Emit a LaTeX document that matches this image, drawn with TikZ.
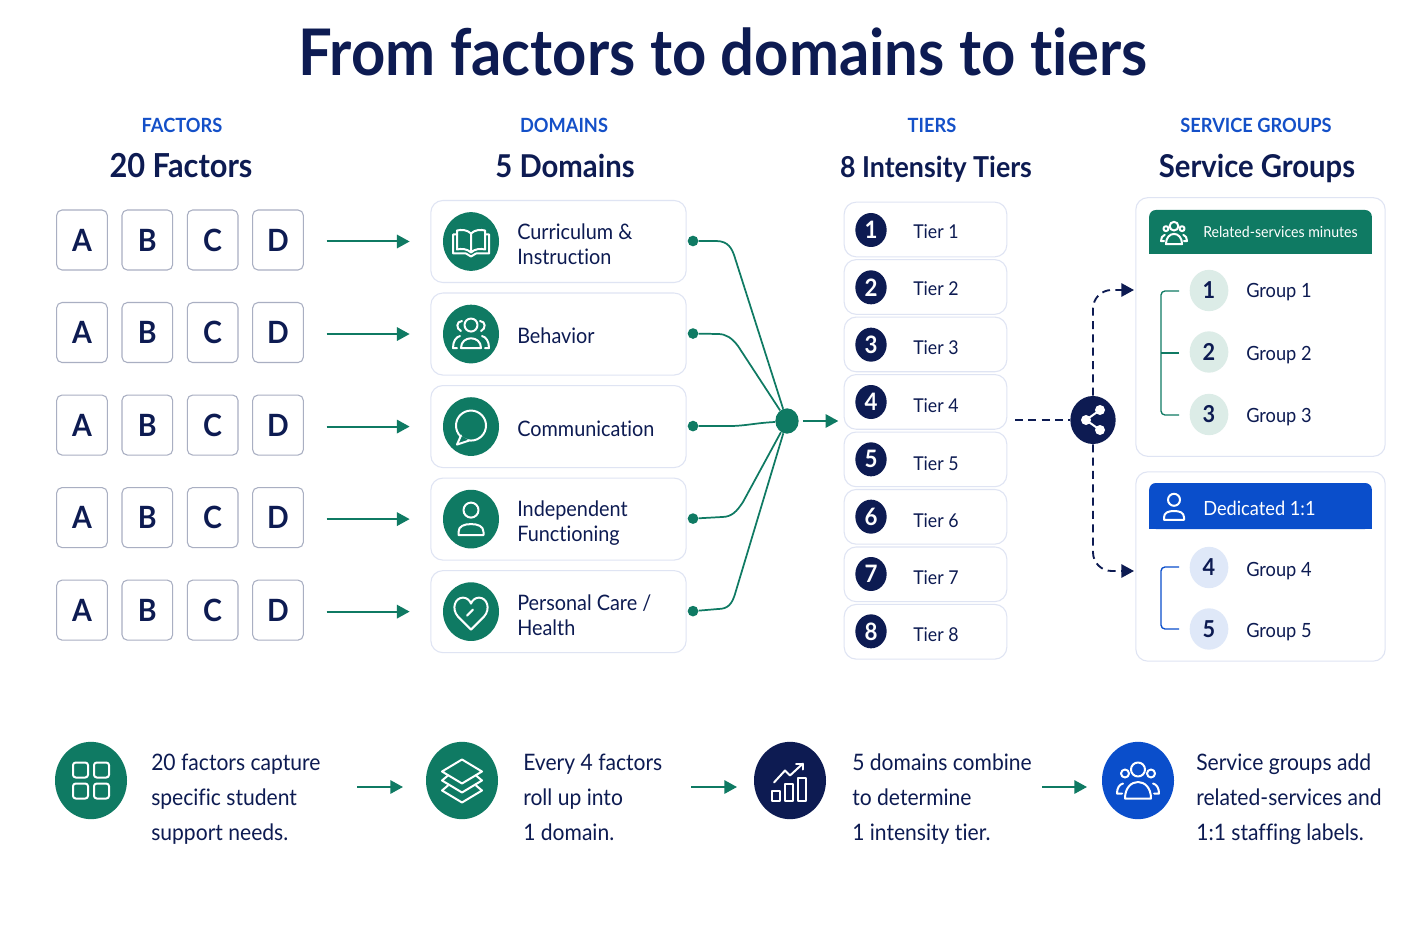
\documentclass[tikz,border=0pt]{standalone}
\usepackage{fontspec}
\setmainfont[Ligatures=NoCommon, FakeStretch=0.93]{Lato}
\usetikzlibrary{positioning}
\usetikzlibrary{shapes.geometric}
\usetikzlibrary{arrows.meta}
\definecolor{navyc}{HTML}{0D1B52}
\definecolor{greenc}{HTML}{0F7A63}
\definecolor{bluec}{HTML}{0A4ECB}
\definecolor{labelc}{HTML}{1450C8}
\definecolor{edgec}{HTML}{DFE4F3}
\definecolor{factorc}{HTML}{A9AFC2}
\definecolor{palegreen}{HTML}{DCECE7}
\definecolor{paleblue}{HTML}{DFE8F8}
\tikzset{
    iconline/.style = {draw=white, line width=1.5pt, line join=round, line cap=round},
    pics/bookicon/.style = {code={
        \draw[iconline] (0,-8) .. controls (-4,-12) and (-10,-12) .. (-14,-11) -- (-14,8) .. controls (-10,7) and (-4,7) .. (0,11) .. controls (4,7) and (10,7) .. (14,8) -- (14,-11) .. controls (10,-12) and (4,-12) .. (0,-8) -- (0,11);
        \draw[iconline] (-14,-7) -- (-18,-7) -- (-18,12) -- (-5,12) -- (0,15) -- (5,12) -- (18,12) -- (18,-7) -- (14,-7);
    }},
    pics/behavioricon/.style = {code={
        \draw[iconline] (0,-9) circle (6.5);
        \draw[iconline] (-10,14) .. controls (-10,1) and (10,1) .. (10,14) -- cycle;
        \draw[iconline] (-9,-13) .. controls (-15,-13) and (-15,-5) .. (-10,-3);
        \draw[iconline] (9,-13) .. controls (15,-13) and (15,-5) .. (10,-3);
        \draw[iconline] (-14,14) -- (-18,14) .. controls (-18,7) and (-15,3) .. (-11,2);
        \draw[iconline] (14,14) -- (18,14) .. controls (18,7) and (15,3) .. (11,2);
    }},
    pics/bubbleicon/.style = {code={
        \draw[iconline] (0,-1) circle (15);
        \draw[iconline, fill=greenc] (-10,9) -- (-14,18) -- (-2,14);
    }},
    pics/personicon/.style = {code={
        \draw[iconline] (0,-9) circle (7.5);
        \draw[iconline] (-12.5,16) -- (12.5,16) -- (12.5,13) .. controls (12.5,7) and (7,5) .. (0,5) .. controls (-7,5) and (-12.5,7) .. (-12.5,13) -- cycle;
    }},
    pics/hearticon/.style = {code={
        \draw[iconline] (0,18) -- (-13,5) .. controls (-20,-3) and (-16,-14) .. (-8,-14) .. controls (-4,-14) and (-1,-11) .. (0,-8) .. controls (1,-11) and (4,-14) .. (8,-14) .. controls (16,-14) and (20,-3) .. (13,5) -- cycle;
        \draw[iconline] (-4,4) -- (2,-2);
    }},
    pics/gridicon/.style = {code={
        \draw[iconline, rounded corners=2pt] (-18,-18) rectangle (-3,-3);
        \draw[iconline, rounded corners=2pt] (3,-18) rectangle (18,-3);
        \draw[iconline, rounded corners=2pt] (-18,3) rectangle (-3,18);
        \draw[iconline, rounded corners=2pt] (3,3) rectangle (18,18);
    }},
    pics/layersicon/.style = {code={
        \draw[iconline] (0,-21) -- (20,-9) -- (0,3) -- (-20,-9) -- cycle;
        \draw[iconline] (-14,-5) -- (-20,0) -- (0,12) -- (20,0) -- (14,-5);
        \draw[iconline] (-14,5) -- (-20,10) -- (0,22) -- (20,10) -- (14,5);
    }},
    pics/charticon/.style = {code={
        \draw[iconline] (-18,10) rectangle (-10,20);
        \draw[iconline] (-5,3) rectangle (3,20);
        \draw[iconline] (8,-3) rectangle (16,20);
        \draw[iconline] (-16,2) -- (-5,-10) -- (0,-5) -- (13,-17);
        \draw[iconline] (6,-17) -- (13,-17) -- (13,-11);
    }},
    pics/crewicon/.style = {code={
        \draw[iconline] (0,-11) circle (7);
        \draw[iconline] (-13,-7) circle (4);
        \draw[iconline] (13,-7) circle (4);
        \draw[iconline] (-13,18) .. controls (-13,-4) and (13,-4) .. (13,18) -- cycle;
        \draw[iconline] (-16,13) -- (-21,13) .. controls (-21,8) and (-19,4) .. (-15,3);
        \draw[iconline] (16,13) -- (21,13) .. controls (21,8) and (19,4) .. (15,3);
    }},
    pics/shareicon/.style = {code={
        \draw[iconline] (7,-10) -- (-7,0) -- (7,10);
        \fill[white] (7,-10) circle (5) (-7,0) circle (5) (7,10) circle (5);
    }}
}
\begin{document}
\begin{tikzpicture}[x=0.75pt, y=-0.75pt, >={Triangle[length=9.5pt,width=10pt]},
                        node distance = 69.4pt and 49pt, on grid,                % Node placement settings
                        facbox/.style = {draw=factorc, line width=0.8pt, rounded corners=4pt, fill=white, minimum width=38pt, minimum height=45pt, text=navyc, font=\fontsize{23}{24}\selectfont\bfseries},
                        dombox/.style = {draw=edgec, line width=0.8pt, rounded corners=9pt, fill=white, minimum width=191.5pt, minimum height=61.5pt},
                        tierbox/.style = {draw=edgec, line width=0.8pt, rounded corners=9pt, fill=white, minimum width=122pt, minimum height=41pt},
                        svcbox/.style = {draw=edgec, line width=0.8pt, rounded corners=9pt, fill=white, minimum width=187pt},
                        iconc/.style = {ellipse, fill=greenc, minimum width=42pt, minimum height=44pt, inner sep=0pt},
                        bigc/.style = {ellipse, minimum width=54pt, minimum height=58pt, inner sep=0pt},
                        numc/.style = {ellipse, fill=navyc, text=white, minimum width=23.5pt, minimum height=25.5pt, inner sep=0pt, font=\fontsize{18}{18}\selectfont\bfseries},
                        groupc/.style = {ellipse, text=navyc, minimum width=29pt, minimum height=31pt, inner sep=0pt, font=\fontsize{17.5}{18}\selectfont\bfseries},
                        dotn/.style = {circle, fill=greenc, minimum size=8pt, inner sep=0pt},
                        headlabel/.style = {anchor=base, text=labelc, font=\fontsize{14.7}{16}\selectfont\bfseries},
                        columnhead/.style = {anchor=base, text=navyc, font=\fontsize{23.6}{26}\selectfont\bfseries},
                        domtext/.style = {anchor=base west, inner sep=0pt, align=left, text=navyc, font=\fontsize{16}{18.75}\selectfont},
                        tiertext/.style = {anchor=base west, inner sep=0pt, text=navyc, font=\fontsize{14.3}{18}\selectfont},
                        grouptext/.style = {anchor=base west, inner sep=0pt, text=navyc, font=\fontsize{14.7}{18}\selectfont},
                        noteline/.style = {anchor=base west, inner sep=0pt, align=left, text=navyc, font=\fontsize{17}{26.25}\selectfont},
                        flow/.style = {draw=greenc, line width=1.5pt, ->},
                        hubline/.style = {draw=greenc, line width=1.3pt},
                        dashlink/.style = {draw=navyc, line width=1.4pt, dash pattern=on 6pt off 4pt}]
    \useasboundingbox (0,0) rectangle (1414,934);
    \fill[white] (0,0) rectangle (1414,934);
    % Title and column heads
    \node[anchor=base, inner sep=0pt, text=navyc, font=\fontsize{48.2}{52}\selectfont\bfseries] (title) at (723,76) {From factors to domains to tiers};
    \node[headlabel] (lab1) at (182,133) {FACTORS};
    \node[headlabel] (lab2) at (564,133) {DOMAINS};
    \node[headlabel] (lab3) at (932,133) {TIERS};
    \node[headlabel] (lab4) at (1256,133) {SERVICE GROUPS};
    \node[columnhead, font=\fontsize{24.8}{26}\selectfont\bfseries] (col1) at (181,178) {20 Factors};
    \node[columnhead] (col2) at (565,178) {5 Domains};
    \node[columnhead, font=\fontsize{21.6}{26}\selectfont\bfseries] (col3) at (936,178) {8 Intensity Tiers};
    \node[columnhead] (col4) at (1257,178) {Service Groups};
    % Factors
    \node[facbox] (a1) at (82,240) {A};
    \node[facbox] (b1) [right =of a1] {B};
    \node[facbox] (c1) [right =of b1] {C};
    \node[facbox] (d1) [right =of c1] {D};
    \node[facbox] (a2) [below =of a1] {A};
    \node[facbox] (b2) [right =of a2] {B};
    \node[facbox] (c2) [right =of b2] {C};
    \node[facbox] (d2) [right =of c2] {D};
    \node[facbox] (a3) [below =of a2] {A};
    \node[facbox] (b3) [right =of a3] {B};
    \node[facbox] (c3) [right =of b3] {C};
    \node[facbox] (d3) [right =of c3] {D};
    \node[facbox] (a4) [below =of a3] {A};
    \node[facbox] (b4) [right =of a4] {B};
    \node[facbox] (c4) [right =of b4] {C};
    \node[facbox] (d4) [right =of c4] {D};
    \node[facbox] (a5) [below =of a4] {A};
    \node[facbox] (b5) [right =of a5] {B};
    \node[facbox] (c5) [right =of b5] {C};
    \node[facbox] (d5) [right =of c5] {D};
    % Domains
    \node[dombox] (dom1) at (558.5,241.5) {};
    \node[dombox] (dom2) [below =of dom1] {};
    \node[dombox] (dom3) [below =of dom2] {};
    \node[dombox] (dom4) [below =of dom3] {};
    \node[dombox] (dom5) [below =of dom4] {};
    \node[iconc] (ic1) at (471,241.5) {};
    \node[iconc] (ic2) [below =of ic1] {};
    \node[iconc] (ic3) [below =of ic2] {};
    \node[iconc] (ic4) [below =of ic3] {};
    \node[iconc] (ic5) [below =of ic4] {};
    \pic at (ic1) {bookicon};
    \pic at (ic2) {behavioricon};
    \pic at (ic3) {bubbleicon};
    \pic at (ic4) {personicon};
    \pic at (ic5) {hearticon};
    \node[domtext] (dt1) at (517,265) {Curriculum \&\\Instruction};
    \node[domtext] (dt2) at (517,344) {Behavior};
    \node[domtext] (dt3) at (517,436) {Communication};
    \node[domtext] (dt4) at (517,541) {Independent\\Functioning};
    \node[domtext] (dt5) at (517,635) {Personal Care /\\Health};
    \node[dotn] (dot1) at (693,241) {};
    \node[dotn] (dot2) [below =of dot1] {};
    \node[dotn] (dot3) [below =of dot2] {};
    \node[dotn] (dot4) [below =of dot3] {};
    \node[dotn] (dot5) [below =of dot4] {};
    \node[ellipse, fill=greenc, minimum width=17.5pt, minimum height=19pt, inner sep=0pt] (hub) at (787,421) {};
    % Tiers
    \node[tierbox] (tier1) at (925.5,229.5) {};
    \node[tierbox] (tier2) [below =43.1pt of tier1] {};
    \node[tierbox] (tier3) [below =43.1pt of tier2] {};
    \node[tierbox] (tier4) [below =43.1pt of tier3] {};
    \node[tierbox] (tier5) [below =43.1pt of tier4] {};
    \node[tierbox] (tier6) [below =43.1pt of tier5] {};
    \node[tierbox] (tier7) [below =43.1pt of tier6] {};
    \node[tierbox] (tier8) [below =43.1pt of tier7] {};
    \node[numc] (num1) at (871,230) {1};
    \node[numc] (num2) [below =43pt of num1] {2};
    \node[numc] (num3) [below =43pt of num2] {3};
    \node[numc] (num4) [below =43pt of num3] {4};
    \node[numc] (num5) [below =43pt of num4] {5};
    \node[numc] (num6) [below =43pt of num5] {6};
    \node[numc] (num7) [below =43pt of num6] {7};
    \node[numc] (num8) [below =43pt of num7] {8};
    \node[tiertext] (tt1) at (913,239) {Tier 1};
    \node[tiertext] (tt2) at (913,296) {Tier 2};
    \node[tiertext] (tt3) at (913,354) {Tier 3};
    \node[tiertext] (tt4) at (913,412) {Tier 4};
    \node[tiertext] (tt5) at (913,470) {Tier 5};
    \node[tiertext] (tt6) at (913,527) {Tier 6};
    \node[tiertext] (tt7) at (913,584) {Tier 7};
    \node[tiertext] (tt8) at (913,641) {Tier 8};
    % Service groups
    \node[svcbox, minimum height=194pt] (svc1) at (1260.5,327) {};
    \node[svcbox, minimum height=142pt] (svc2) at (1260.5,566.5) {};
    \node[fill=greenc, rounded corners=5pt, minimum width=167pt, minimum height=33pt, inner sep=0pt] (head1) at (1260.5,232) {};
    \fill[greenc] (head1.west) rectangle (head1.south east);
    \node[fill=bluec, rounded corners=5pt, minimum width=167pt, minimum height=34.5pt, inner sep=0pt] (head2) at (1260.5,506) {};
    \fill[bluec] (head2.west) rectangle (head2.south east);
    \pic[scale=0.62] at (1174,233) {crewicon};
    \pic[scale=0.8] at (1174,507) {personicon};
    \node[anchor=base west, inner sep=0pt, text=white, font=\fontsize{11.4}{15}\selectfont] (htext1) at (1203,238) {Related-services minutes};
    \node[anchor=base west, inner sep=0pt, text=white, font=\fontsize{14.7}{18}\selectfont] (htext2) at (1203,515) {Dedicated 1:1};
    \node[groupc, fill=palegreen] (g1) at (1209,290.5) {1};
    \node[groupc, fill=palegreen] (g2) at (1209,352) {2};
    \node[groupc, fill=palegreen] (g3) at (1209,414.5) {3};
    \node[groupc, fill=paleblue] (g4) at (1209,567.5) {4};
    \node[groupc, fill=paleblue] (g5) at (1209,629) {5};
    \node[grouptext] (gt1) at (1246,298) {Group 1};
    \node[grouptext] (gt2) at (1246,360) {Group 2};
    \node[grouptext] (gt3) at (1246,422) {Group 3};
    \node[grouptext] (gt4) at (1246,576) {Group 4};
    \node[grouptext] (gt5) at (1246,637) {Group 5};
    \node[ellipse, fill=navyc, minimum width=34pt, minimum height=36pt, inner sep=0pt] (share) at (1093,420) {};
    \pic at (share) {shareicon};
    % Free ends of the connectors
    \coordinate (tierout) at (1015,420);
    \coordinate (svcin1) at (1134,290);
    \coordinate (svcin2) at (1134,571);
    \coordinate (brg1) at (1179,291);
    \coordinate (brg2) at (1179,353);
    \coordinate (brg3) at (1179,415);
    \coordinate (brb1) at (1179,567);
    \coordinate (brb2) at (1179,629);
    % Bottom strip
    \node[bigc, fill=greenc] (step1) at (91,780.5) {};
    \node[bigc, fill=greenc] (step2) at (462,780.5) {};
    \node[bigc, fill=navyc] (step3) at (790,780.5) {};
    \node[bigc, fill=bluec] (step4) at (1138,780.5) {};
    \pic at (step1) {gridicon};
    \pic at (step2) {layersicon};
    \pic at (step3) {charticon};
    \pic at (step4) {crewicon};
    \node[noteline] (note1) at (151,840) {20 factors capture\\specific student\\support needs.};
    \node[noteline] (note2) at (523,840) {Every 4 factors\\roll up into\\1 domain.};
    \node[noteline] (note3) at (852,840) {5 domains combine\\to determine\\1 intensity tier.};
    \node[noteline] (note4) at (1196,840) {Service groups add\\related-services and\\1:1 staffing labels.};
    %edge:factors to domains
    \path[shorten <=17pt, shorten >=15.5pt]
        (d1.east |- dom1.west) edge[flow] (dom1.west)
        (d2.east |- dom2.west) edge[flow] (dom2.west)
        (d3.east |- dom3.west) edge[flow] (dom3.west)
        (d4.east |- dom4.west) edge[flow] (dom4.west)
        (d5.east |- dom5.west) edge[flow] (dom5.west);
    %edge:domains to hub
    \draw[hubline] (dot1) -- (716,241) .. controls (728,241) and (732,248) .. (735,258) -- (hub);
    \draw[hubline] (dot2) -- (718,334) .. controls (726,334) and (732,338) .. (738,346) -- (hub);
    \draw[hubline] (dot3) -- (730,426) .. controls (745,426) and (755,423) .. (775,422) -- (hub);
    \draw[hubline] (dot4) -- (722,517) .. controls (732,517) and (737,511) .. (743,502) -- (hub);
    \draw[hubline] (dot5) -- (718,609) .. controls (728,609) and (732,604) .. (735,594) -- (hub);
    \path[shorten <=3pt, shorten >=4pt] (hub) edge[flow] (tier4.west |- hub);
    %edge:tiers to service groups
    \draw[dashlink] (tierout) -- (share);
    \draw[dashlink, ->, rounded corners=14pt] (share) |- (svcin1);
    \draw[dashlink, ->, rounded corners=14pt] (share) |- (svcin2);
    %edge:brackets
    \draw[draw=greenc, line width=1pt, rounded corners=3pt] (brg1) -- (1161,291) -- (1161,415) -- (brg3);
    \draw[draw=greenc, line width=1pt] (brg2) -- (1161,353);
    \draw[draw=bluec, line width=1pt, rounded corners=3pt] (brb1) -- (1161,567) -- (1161,629) -- (brb2);
    %edge:bottom strip
    \coordinate (s1a) at (357,787);
    \coordinate (s1b) at (403,787);
    \coordinate (s2a) at (691,787);
    \coordinate (s2b) at (737,787);
    \coordinate (s3a) at (1042,787);
    \coordinate (s3b) at (1087,787);
    \path
        (s1a) edge[flow] (s1b)
        (s2a) edge[flow] (s2b)
        (s3a) edge[flow] (s3b);
\end{tikzpicture}
\end{document}
